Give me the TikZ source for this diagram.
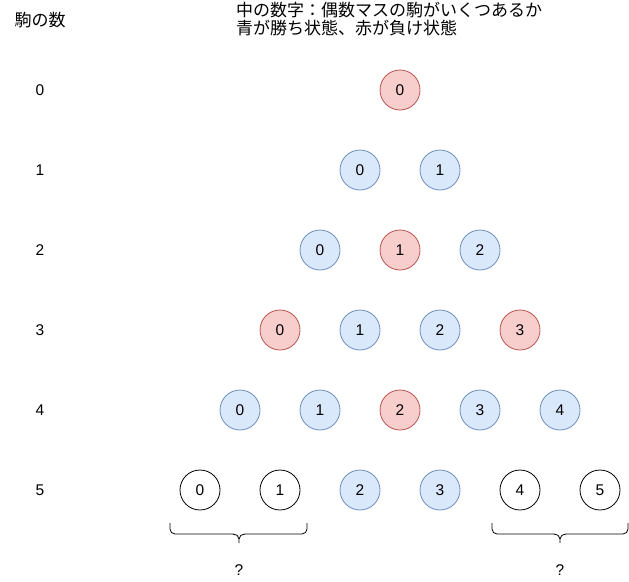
\documentclass[tikz,border=0pt]{standalone}
\usepackage{fontspec}
\setmainfont{Liberation Sans}
\newfontfamily\jpfont{Noto Sans CJK JP}
\usepackage{xcolor}
\usepackage{tikz}
\usetikzlibrary{positioning}

\definecolor{winfill}{HTML}{DAE8FC}
\definecolor{winline}{HTML}{6C8EBF}
\definecolor{losefill}{HTML}{F8CECC}
\definecolor{loseline}{HTML}{B85450}

\begin{document}
\begin{tikzpicture}[
  x=1pt, y=-1pt,
  node distance=80pt and 40pt, on grid,
  font=\fontsize{15.5}{18}\selectfont,
  statenode/.style={circle, minimum size=40pt, inner sep=0pt, line width=0.8pt},
  winnode/.style={statenode, draw=winline, fill=winfill},   % blue: winning state
  losenode/.style={statenode, draw=loseline, fill=losefill}, % red: losing state
  opennode/.style={statenode, draw=black, fill=white},
  rowlabel/.style={inner sep=0pt},
  jplabel/.style={inner sep=0pt, font=\jpfont\fontsize{17}{18}\selectfont},
  bracepath/.style={draw=black, line width=0.8pt}
]
  \useasboundingbox (0,0) rectangle (629,581);

  % headings
  \node[jplabel] (head) at (40,20) {駒の数};
  \node[jplabel, anchor=west, align=left] (note) at (236,19)
    {中の数字：偶数マスの駒がいくつあるか\\青が勝ち状態、赤が負け状態};

  % number of pieces
  \node[rowlabel] (L0) at (40,90) {0};
  \node[rowlabel] (L1) [below=of L0] {1};
  \node[rowlabel] (L2) [below=of L1] {2};
  \node[rowlabel] (L3) [below=of L2] {3};
  \node[rowlabel] (L4) [below=of L3] {4};
  \node[rowlabel] (L5) [below=of L4] {5};

  % states
  \node[losenode] (S00) at (400,90) {0};

  \node[winnode]  (S10) [below left=of S00] {0};
  \node[winnode]  (S11) [right=80pt of S10] {1};

  \node[winnode]  (S20) [below left=of S10] {0};
  \node[losenode] (S21) [right=80pt of S20] {1};
  \node[winnode]  (S22) [right=80pt of S21] {2};

  \node[losenode] (S30) [below left=of S20] {0};
  \node[winnode]  (S31) [right=80pt of S30] {1};
  \node[winnode]  (S32) [right=80pt of S31] {2};
  \node[losenode] (S33) [right=80pt of S32] {3};

  \node[winnode]  (S40) [below left=of S30] {0};
  \node[winnode]  (S41) [right=80pt of S40] {1};
  \node[losenode] (S42) [right=80pt of S41] {2};
  \node[winnode]  (S43) [right=80pt of S42] {3};
  \node[winnode]  (S44) [right=80pt of S43] {4};

  \node[opennode] (S50) [below left=of S40] {0};
  \node[opennode] (S51) [right=80pt of S50] {1};
  \node[winnode]  (S52) [right=80pt of S51] {2};
  \node[winnode]  (S53) [right=80pt of S52] {3};
  \node[opennode] (S54) [right=80pt of S53] {4};
  \node[opennode] (S55) [right=80pt of S54] {5};

  % braces
  \draw[bracepath, rounded corners=5pt] (170,523) |- (233,534);
  \draw[bracepath] (233,534) to[out=0,in=90] (239,539) -- (239,543);
  \draw[bracepath] (245,534) to[out=180,in=90] (239,539);
  \draw[bracepath, rounded corners=5pt] (307,523) |- (245,534);

  \draw[bracepath, rounded corners=5pt] (492,523) |- (554,534);
  \draw[bracepath] (554,534) to[out=0,in=90] (560,539) -- (560,543);
  \draw[bracepath] (566,534) to[out=180,in=90] (560,539);
  \draw[bracepath, rounded corners=5pt] (628,523) |- (566,534);

  \node[rowlabel] (Q1) at (239,570) {?};
  \node[rowlabel] (Q2) at (560,570) {?};
\end{tikzpicture}
\end{document}
